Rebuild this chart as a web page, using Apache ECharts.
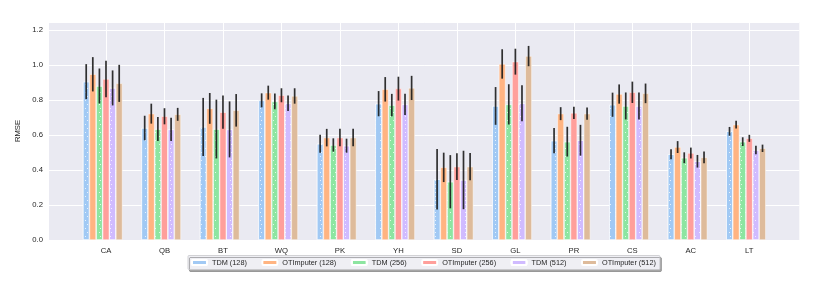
<!DOCTYPE html>
<html>
<head>
<meta charset="utf-8">
<script src="https://cdn.jsdelivr.net/npm/echarts@6/dist/echarts.min.js"></script>
<style>html,body{margin:0;padding:0;background:#fff}#c{width:822px;height:290px}</style>
</head>
<body>
<div id="c"></div>
<script>
const categories = ['CA','QB','BT','WQ','PK','YH','SD','GL','PR','CS','AC','LT'];
const seriesNames = ['TDM (128)','OTImputer (128)','TDM (256)','OTImputer (256)','TDM (512)','OTImputer (512)'];
const tdm128 = [0.905,0.640,0.646,0.798,0.550,0.779,0.347,0.766,0.568,0.773,0.490,0.621];
const tdm128Err = [0.100,0.070,0.166,0.040,0.052,0.072,0.173,0.108,0.072,0.069,0.028,0.025];
const ot128 = [0.947,0.722,0.752,0.842,0.585,0.861,0.415,1.006,0.722,0.834,0.531,0.659];
const ot128Err = [0.098,0.057,0.088,0.040,0.050,0.070,0.084,0.084,0.037,0.055,0.034,0.022];
const tdm256 = [0.880,0.634,0.634,0.792,0.543,0.771,0.333,0.775,0.562,0.766,0.470,0.562];
const tdm256Err = [0.100,0.069,0.168,0.045,0.038,0.064,0.152,0.115,0.085,0.077,0.031,0.025];
const ot256 = [0.920,0.707,0.730,0.827,0.585,0.865,0.419,1.019,0.726,0.844,0.497,0.581];
const ot256Err = [0.104,0.046,0.095,0.040,0.050,0.068,0.076,0.074,0.035,0.061,0.031,0.020];
const tdm512 = [0.869,0.632,0.632,0.781,0.539,0.775,0.343,0.781,0.570,0.766,0.450,0.514];
const tdm512Err = [0.100,0.066,0.160,0.044,0.040,0.061,0.167,0.103,0.088,0.077,0.036,0.024];
const ot512 = [0.895,0.718,0.741,0.823,0.585,0.869,0.419,1.051,0.722,0.838,0.472,0.524];
const ot512Err = [0.106,0.037,0.093,0.044,0.050,0.069,0.078,0.058,0.035,0.056,0.034,0.021];
const yTicks = [0, 0.2, 0.4, 0.6, 0.8, 1.0, 1.2];

const means = [tdm128, ot128, tdm256, ot256, tdm512, ot512];
const errs = [tdm128Err, ot128Err, tdm256Err, ot256Err, tdm512Err, ot512Err];
const colors = ['#a1c9f4','#ffb482','#8de5a1','#ff9f9b','#d0bbff','#debb9b'];
const BAR_W = 6.6;
const YMAX = 1.2457;
const FONT = "'Liberation Sans', Arial, sans-serif";
const TXT = '#262626';

const dotDecal = {
  symbol: 'rect',
  symbolSize: 1,
  color: 'rgba(255,255,255,0.75)',
  dashArrayX: [[1, 4], [0, 2.5, 1, 1.5]],
  dashArrayY: [1, 3],
  rotation: 0
};

const barSeries = seriesNames.map((name, k) => ({
  name: name,
  type: 'bar',
  xAxisIndex: 0,
  yAxisIndex: 0,
  barWidth: BAR_W,
  barGap: '0%',
  data: means[k],
  itemStyle: {
    color: colors[k],
    borderColor: '#ffffff',
    borderWidth: 0.5,
    decal: (k % 2 === 0) ? dotDecal : undefined
  },
  emphasis: { disabled: true },
  z: 2
}));

// empty slot so the 4th bar (index 3) sits on the tick, as in the original
const spacerSeries = {
  name: 'spacer',
  type: 'bar',
  xAxisIndex: 0,
  yAxisIndex: 0,
  barWidth: BAR_W,
  barGap: '0%',
  data: categories.map(() => '-'),
  itemStyle: { color: 'rgba(0,0,0,0)' },
  silent: true
};

const errData = [];
for (let k = 0; k < means.length; k++) {
  for (let i = 0; i < categories.length; i++) {
    errData.push([i, k, means[k][i] - errs[k][i], means[k][i] + errs[k][i]]);
  }
}

const errSeries = {
  name: 'err',
  type: 'custom',
  xAxisIndex: 0,
  yAxisIndex: 0,
  data: errData,
  encode: { x: 0, y: [2, 3] },
  z: 5,
  silent: true,
  renderItem: function (params, api) {
    const c = api.value(0), k = api.value(1);
    const p1 = api.coord([c, api.value(2)]);
    const p2 = api.coord([c, api.value(3)]);
    const dx = (k - 3) * BAR_W;
    return {
      type: 'line',
      shape: { x1: p1[0] + dx, y1: p1[1], x2: p2[0] + dx, y2: p2[1] },
      style: { stroke: 'rgba(20,20,20,0.88)', lineWidth: 1.7 }
    };
  }
};

const chart = echarts.init(document.getElementById('c'), null, { renderer: 'canvas' });
chart.setOption({
  animation: false,
  backgroundColor: '#ffffff',
  textStyle: { fontFamily: FONT },
  grid: [
    { left: 76.76, width: 701.8, top: 22, bottom: 50, containLabel: false },
    { left: 49, right: 22.7, top: 22, bottom: 50, show: true, backgroundColor: '#eaeaf2', borderWidth: 0, containLabel: false, z: 0 }
  ],
  xAxis: [
    {
      type: 'category', gridIndex: 0, data: categories,
      axisLine: { show: false }, axisTick: { show: false },
      splitLine: { show: true, alignWithLabel: true, lineStyle: { color: '#ffffff', width: 1 } },
      axisLabel: { color: TXT, fontSize: 7.7, fontFamily: FONT, margin: 7 }
    },
    { type: 'value', gridIndex: 1, show: false, min: 0, max: 1 }
  ],
  yAxis: [
    { type: 'value', gridIndex: 0, min: 0, max: YMAX, show: false, splitLine: { show: false } },
    {
      type: 'value', gridIndex: 1, min: 0, max: YMAX, interval: 0.2,
      name: 'RMSE', nameLocation: 'middle', nameGap: 24,
      nameTextStyle: { color: TXT, fontSize: 7.7, fontFamily: FONT },
      axisLine: { show: false }, axisTick: { show: false },
      splitLine: { show: true, lineStyle: { color: '#ffffff', width: 1 } },
      axisLabel: {
        color: TXT, fontSize: 7.7, fontFamily: FONT, margin: 6,
        formatter: function (v) { return yTicks.some(t => Math.abs(t - v) < 1e-6) ? v.toFixed(1) : ''; }
      }
    }
  ],
  legend: {
    data: seriesNames,
    left: 188, top: 255.5,
    orient: 'horizontal',
    itemWidth: 15, itemHeight: 5, itemGap: 14.5,
    padding: [3.5, 4, 3.5, 3],
    backgroundColor: '#efeff4',
    borderColor: '#c8c8cc', borderWidth: 0.8, borderRadius: 1,
    shadowColor: 'rgba(0,0,0,0.35)', shadowOffsetX: 1.5, shadowOffsetY: 2, shadowBlur: 0,
    textStyle: { color: TXT, fontSize: 7.3, fontFamily: FONT },
    selectedMode: false
  },
  series: barSeries.concat([spacerSeries, errSeries])
});
</script>
</body>
</html>
